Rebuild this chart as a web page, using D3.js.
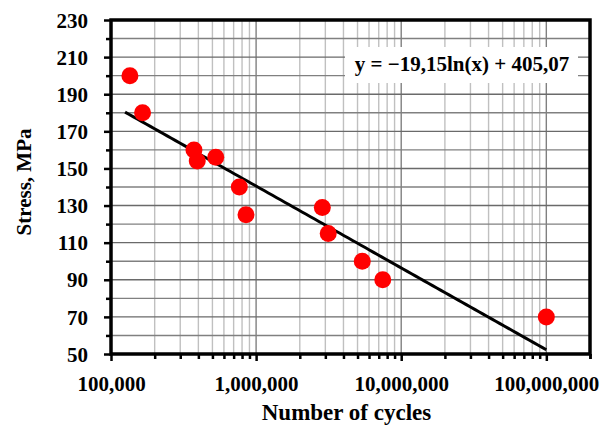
<!DOCTYPE html>
<html><head><meta charset="utf-8">
<script src="https://cdn.jsdelivr.net/npm/d3@7/dist/d3.min.js"></script>
<style>body{margin:0;background:#fff}svg{display:block}</style>
</head><body><svg id="c" width="602" height="430"></svg>
<script>
const cycles = [1.35e5, 1.65e5, 3.73e5, 3.93e5, 5.27e5, 7.66e5, 8.52e5, 2.86e6, 3.14e6, 5.39e6, 7.46e6, 1.0e8];
const stress = [200, 180, 160, 154, 156, 140, 125, 129, 115, 100, 90, 70];
const trendCoef = [-19.15, 405.07];
const trendRange = [1.25e5, 1.0e8];
const yTicks = [50, 70, 90, 110, 130, 150, 170, 190, 210, 230];
const xTicks = [1e5, 1e6, 1e7, 1e8];
const equationText = "y = \u221219,15ln(x) + 405,07";
const xTitle = "Number of cycles";
const yTitle = "Stress, MPa";

const svg = d3.select("#c");
const L = 111, R = 590, T = 20, B = 354;
const font = "'Liberation Serif', 'Times New Roman', serif";
const x = d3.scaleLog().domain([1e5, 2e8]).range([L, R]);
const y = d3.scaleLinear().domain([50, 230]).range([B, T]);

const xMinor = [];
for (let d = 1e5; d < 2e8; d *= 10) for (let k = 2; k <= 9; k++) if (d * k <= 2e8) xMinor.push(d * k);
const yMinor = d3.range(60, 230, 20);

const g = svg.append("g");
g.selectAll(".vmin").data(xMinor).join("line")
  .attr("x1", d => x(d)).attr("x2", d => x(d)).attr("y1", T).attr("y2", B)
  .attr("stroke", "#c0c0c0").attr("stroke-width", 1.4);
g.selectAll(".vmaj").data(xTicks).join("line")
  .attr("x1", d => x(d)).attr("x2", d => x(d)).attr("y1", T).attr("y2", B)
  .attr("stroke", "#808080").attr("stroke-width", 1.4);
g.selectAll(".hmin").data(yMinor).join("line")
  .attr("x1", L).attr("x2", R).attr("y1", d => y(d)).attr("y2", d => y(d))
  .attr("stroke", "#808080").attr("stroke-width", 1.4);
g.selectAll(".hmaj").data(yTicks).join("line")
  .attr("x1", L).attr("x2", R).attr("y1", d => y(d)).attr("y2", d => y(d))
  .attr("stroke", "#6a6a6a").attr("stroke-width", 1.4);

const eq = svg.append("g");
eq.append("rect").attr("x", 345).attr("y", 47).attr("width", 233).attr("height", 36).attr("fill", "#fff");

const tl = d3.range(0, 101).map(i => {
  const lx = Math.log(trendRange[0]) + (Math.log(trendRange[1]) - Math.log(trendRange[0])) * i / 100;
  const v = Math.exp(lx);
  return [v, trendCoef[0] * Math.log(v) + trendCoef[1]];
});
svg.append("path").datum(tl)
  .attr("d", d3.line().x(d => x(d[0])).y(d => y(d[1])))
  .attr("fill", "none").attr("stroke", "#000").attr("stroke-width", 3);

svg.selectAll(".pt").data(cycles.map((c, i) => [c, stress[i]])).join("circle")
  .attr("cx", d => x(d[0])).attr("cy", d => y(d[1])).attr("r", 8.5).attr("fill", "#ff0000");

const yAxis = d3.axisLeft(y).tickValues(yTicks).tickSize(7).tickPadding(16).tickFormat(d3.format("d"));
const ya = svg.append("g").attr("transform", `translate(${L},0)`).call(yAxis);
ya.select(".domain").remove();
ya.selectAll(".tick line").attr("stroke", "#000").attr("stroke-width", 2.5);
ya.selectAll("text").attr("font-family", font).attr("font-weight", "bold").attr("font-size", 21).attr("fill", "#000").attr("dy", "0.34em");
const yMinAx = d3.axisLeft(y).tickValues(yMinor).tickSize(5).tickFormat("");
const yma = svg.append("g").attr("transform", `translate(${L},0)`).call(yMinAx);
yma.select(".domain").remove();
yma.selectAll(".tick line").attr("stroke", "#000").attr("stroke-width", 2.5);

const xAxis = d3.axisBottom(x).tickValues(xTicks).tickSize(7).tickPadding(15).tickFormat(d3.format(","));
const xa = svg.append("g").attr("transform", `translate(0,${B})`).call(xAxis);
xa.select(".domain").remove();
xa.selectAll(".tick line").attr("stroke", "#000").attr("stroke-width", 2.5);
xa.selectAll("text").attr("font-family", font).attr("font-weight", "bold").attr("font-size", 21).attr("fill", "#000");
const xMinAx = d3.axisBottom(x).tickValues(xMinor.concat([2e8])).tickSize(5).tickFormat("");
const xma = svg.append("g").attr("transform", `translate(0,${B})`).call(xMinAx);
xma.select(".domain").remove();
xma.selectAll(".tick line").attr("stroke", "#000").attr("stroke-width", 2.5);

svg.append("rect").attr("x", L).attr("y", T).attr("width", R - L).attr("height", B - T)
  .attr("fill", "none").attr("stroke", "#000").attr("stroke-width", 3.5);

eq.raise();
eq.append("text").attr("x", 462).attr("y", 71).attr("text-anchor", "middle")
  .attr("font-family", font).attr("font-weight", "bold").attr("font-size", 21).text(equationText);

svg.append("text").attr("x", (L + R) / 2 - 4).attr("y", 420).attr("text-anchor", "middle")
  .attr("font-family", font).attr("font-weight", "bold").attr("font-size", 23).text(xTitle);
svg.append("text").attr("transform", `translate(31,${(T + B) / 2 - 5}) rotate(-90)`).attr("text-anchor", "middle")
  .attr("font-family", font).attr("font-weight", "bold").attr("font-size", 21).text(yTitle);
</script></body></html>
